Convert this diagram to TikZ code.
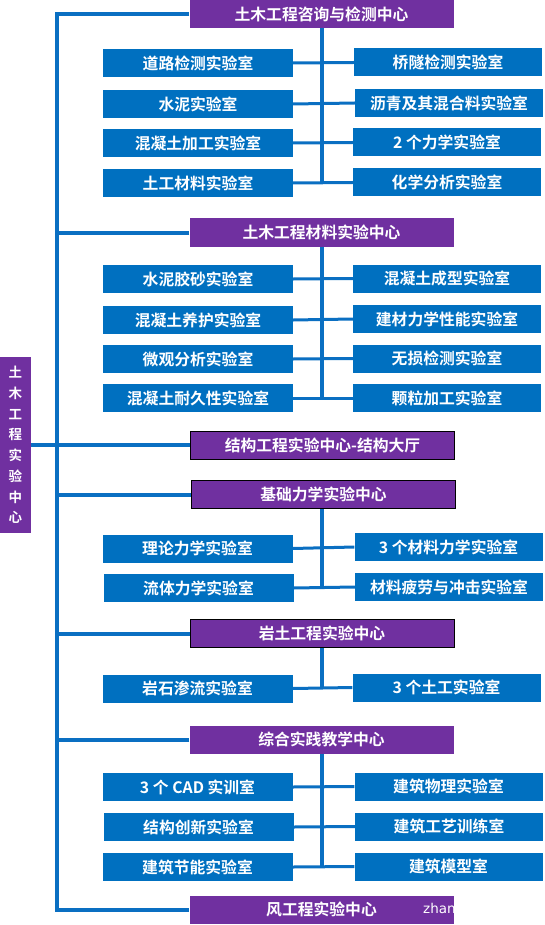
\documentclass[tikz,border=0pt]{standalone}
\usepackage{fontspec}
\newfontfamily\cjk{Noto Sans CJK SC Bold}
\newfontfamily\wmfont{DejaVu Sans}
\definecolor{labblue}{HTML}{0070C0}
\definecolor{lineblue}{HTML}{0A6FC2}
\definecolor{ctrpurple}{HTML}{7030A0}
\tikzset{
  lab/.style={fill=labblue, text=white, font=\cjk\fontsize{15.8}{15.8}\selectfont, minimum height=28pt, inner sep=0pt},
  labL/.style={lab, minimum width=190pt},
  labR/.style={lab, minimum width=188pt},
  ctr/.style={fill=ctrpurple, text=white, font=\cjk\fontsize{15.8}{15.8}\selectfont, minimum width=264pt, minimum height=28pt, inner sep=0pt},
  ctrb/.style={ctr, draw=black, line width=1pt},
  trunk/.style={draw=lineblue, line width=4pt},
  link/.style={draw=lineblue, line width=3pt},
}
\begin{document}
\begin{tikzpicture}[x=1pt,y=-1pt]
\useasboundingbox (0,0) rectangle (545,925);
% root
\node[fill=ctrpurple, text=white, minimum width=31pt, minimum height=176pt, inner sep=0pt,
      align=center, font=\cjk\fontsize{13.5}{20.7}\selectfont] (root) at (15.5,445)
      {土\\木\\工\\程\\实\\验\\中\\心};
% centers
\node[ctr]  (c1) at (321.5,14)    {土木工程咨询与检测中心};
\node[ctr]  (c2) at (321.5,232.5) {土木工程材料实验中心};
\node[ctrb] (c3) at (322.5,445)   {结构工程实验中心-结构大厅};
\node[ctrb] (c4) at (323.5,494.5) {基础力学实验中心};
\node[ctrb] (c5) at (322,633.5)   {岩土工程实验中心};
\node[ctr]  (c6) at (321.5,739.5) {综合实践教学中心};
\node[ctr]  (c7) at (321.5,909.5) {风工程实验中心};
\begin{scope}
\clip (c7.south west) rectangle (c7.north east);
\node[text=white, font=\wmfont\fontsize{13.5}{13.5}\selectfont, anchor=west, inner sep=0pt] (wm) at (423,908) {zhan};
\end{scope}
% group 1
\node[labL] (a1) at (198,63)    {道路检测实验室};
\node[labR] (b1) at (448,62.5)  {桥隧检测实验室};
\node[labL] (a2) at (198,104)   {水泥实验室};
\node[labR] (b2) at (449,103)   {沥青及其混合料实验室};
\node[labL] (a3) at (198,143)   {混凝土加工实验室};
\node[labR] (b3) at (447,142.5) {2 个力学实验室};
\node[labL] (a4) at (198,183)   {土工材料实验室};
\node[labR] (b4) at (447,182.5) {化学分析实验室};
% group 2
\node[labL] (d1) at (198,279)   {水泥胶砂实验室};
\node[labR] (e1) at (447,278.5) {混凝土成型实验室};
\node[labL] (d2) at (198,320)   {混凝土养护实验室};
\node[labR] (e2) at (447,319)   {建材力学性能实验室};
\node[labL] (d3) at (198,359)   {微观分析实验室};
\node[labR] (e3) at (447,358.5) {无损检测实验室};
\node[labL] (d4) at (198,398)   {混凝土耐久性实验室};
\node[labR] (e4) at (447,398)   {颗粒加工实验室};
% group 4
\node[labL] (f1) at (197.5,548.5) {理论力学实验室};
\node[labR] (g1) at (448.5,547)   {3 个材料力学实验室};
\node[labL] (f2) at (198.5,588)   {流体力学实验室};
\node[labR] (g2) at (449,587)     {材料疲劳与冲击实验室};
% group 5
\node[labL] (h1) at (197.5,688.5) {岩石渗流实验室};
\node[labR] (k1) at (446.5,687.5) {3 个土工实验室};
% group 6
\node[labL] (m1) at (197.5,787)   {3 个 CAD 实训室};
\node[labR] (n1) at (448.5,786.5) {建筑物理实验室};
\node[labL] (m2) at (198.5,827)   {结构创新实验室};
\node[labR] (n2) at (449,826.5)   {建筑工艺训练室};
\node[labL] (m3) at (197.5,867)   {建筑节能实验室};
\node[labR] (n3) at (448.5,866.5) {建筑模型室};
% trunk
\coordinate (tk) at (57,0);
\coordinate (bot) at (57,909.5);
\draw[trunk] (c1.west) -| (bot) -- (c7.west);
\draw[trunk] (c2.west) -- (c2.west -| tk);
\draw[trunk] (root.east) -- (c3.west);
\draw[trunk] (c4.west) -- (c4.west -| tk);
\draw[trunk] (c5.west) -- (c5.west -| tk);
\draw[trunk] (c6.west) -- (c6.west -| tk);
% group verticals
\draw[trunk] (c1.south -| 322,0) -- (322,183);
\draw[trunk] (c2.south -| 322,0) -- (322,398);
\draw[trunk] (c4.south -| 322,0) -- (322,588);
\draw[trunk] (c5.south -| 322,0) -- (322,688);
\draw[trunk] (c6.south -| 322,0) -- (322,867);
% links
\foreach \l/\r in {a1/b1,a2/b2,a3/b3,a4/b4,d1/e1,d2/e2,d3/e3,d4/e4,f1/g1,f2/g2,h1/k1,m1/n1,m2/n2,m3/n3}
  \draw[link] (\l.east) -- (\r.west);
\end{tikzpicture}
\end{document}
